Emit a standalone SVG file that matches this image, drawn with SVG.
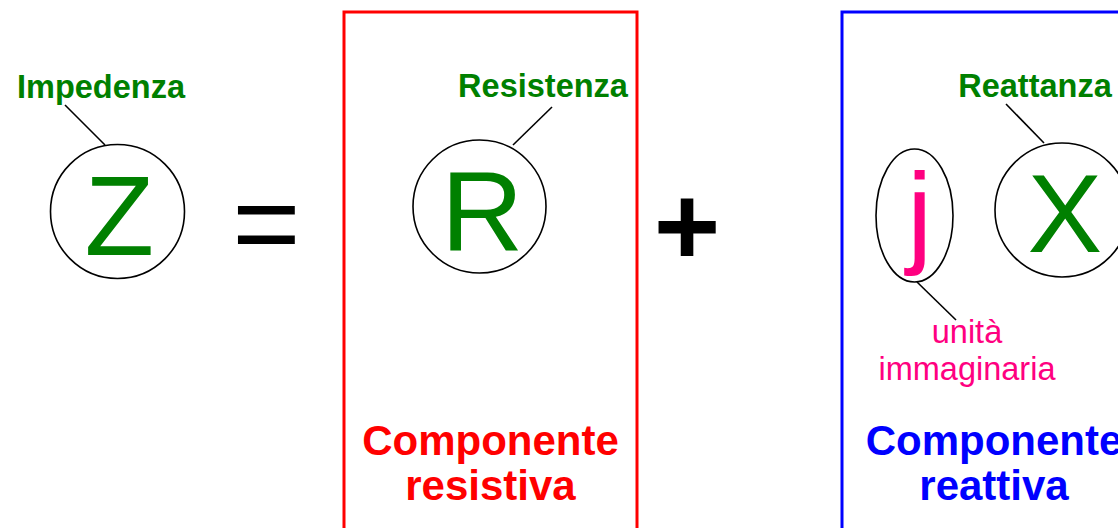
<svg xmlns="http://www.w3.org/2000/svg" width="1118" height="528" viewBox="0 0 1118 528">
<style>
.lbl{font-family:"Liberation Sans",Arial,sans-serif;font-weight:bold;font-size:32.5px;fill:#008000;text-anchor:middle}
.big{font-family:"Liberation Sans",Arial,sans-serif;font-size:114px;fill:#008000}
.ring{fill:none;stroke:#000;stroke-width:1.6}
.lead{stroke:#000;stroke-width:1.6;fill:none}
.comp{font-family:"Liberation Sans",Arial,sans-serif;font-weight:bold;font-size:42px;text-anchor:middle}
.pink{font-family:"Liberation Sans",Arial,sans-serif;font-size:32.5px;fill:#FF0080;text-anchor:middle}
.op{font-family:"Liberation Sans",Arial,sans-serif;fill:#000;text-anchor:middle}
</style>
<rect width="1118" height="528" fill="#fff"/>
<g id="box-resistiva">
<rect x="344" y="12" width="293" height="530" fill="none" stroke="#FF0000" stroke-width="3"/>
<text class="comp" x="490.5" y="455" fill="#FF0000">Componente</text>
<text class="comp" x="490.5" y="500" fill="#FF0000">resistiva</text>
</g>
<g id="box-reattiva">
<rect x="842" y="12" width="310" height="530" fill="none" stroke="#0000FF" stroke-width="3"/>
<text class="comp" x="994" y="455" fill="#0000FF">Componente</text>
<text class="comp" x="994" y="500" fill="#0000FF">reattiva</text>
</g>
<g id="connectors">
<line class="lead" x1="65" y1="105" x2="105" y2="145"/>
<line class="lead" x1="552" y1="107" x2="513" y2="145"/>
<line class="lead" x1="1006" y1="104" x2="1044" y2="143"/>
<line class="lead" x1="917" y1="282" x2="956" y2="320"/>
</g>
<g id="node-Z">
<circle class="ring" cx="117.5" cy="211.5" r="67"/>
<text class="big" x="84.5" y="255">Z</text>
<text class="lbl" x="101" y="98">Impedenza</text>
</g>
<g id="op-equals">
<text class="op" x="266.5" y="264" font-size="117">=</text>
</g>
<g id="node-R">
<circle class="ring" cx="479.5" cy="206.5" r="66.5"/>
<text class="big" x="441" y="250">R</text>
<text class="lbl" x="543" y="97">Resistenza</text>
</g>
<g id="op-plus">
<text class="op" x="687" y="265" font-size="114" font-weight="bold">+</text>
</g>
<g id="node-j">
<ellipse class="ring" cx="914.5" cy="215.5" rx="38.5" ry="66.5"/>
<text class="big" x="907" y="252" font-size="112" fill="#FF0080" style="fill:#FF0080">j</text>
<text class="pink" x="967" y="343">unità</text>
<text class="pink" x="967" y="380">immaginaria</text>
</g>
<g id="node-X">
<circle class="ring" cx="1062" cy="210" r="67"/>
<text class="big" x="1027.5" y="252" style="font-size:112px">X</text>
<text class="lbl" x="1035" y="97">Reattanza</text>
</g>
</svg>
